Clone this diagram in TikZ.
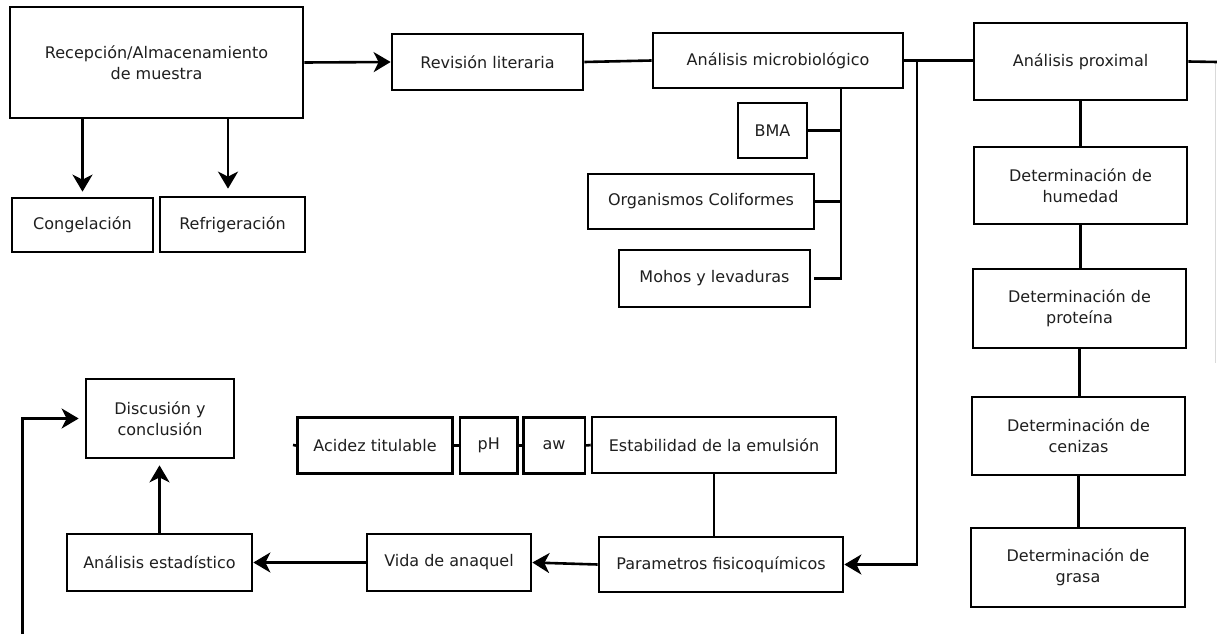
\documentclass[tikz,border=0pt]{standalone}
\usepackage{fontspec}
\setmainfont{DejaVu Sans}
\usetikzlibrary{arrows.meta,calc}
\begin{document}
\begin{tikzpicture}[x=1pt,y=-1pt,
  box/.style={draw=black,line width=2.7pt,fill=white,inner sep=2pt,align=center,
    font=\fontsize{16}{21}\selectfont,text=black!88},
  conn/.style={line width=2.6pt,draw=black},
  arr/.style={conn,-{Stealth[length=17pt,width=20pt,inset=5pt]}},
  faint/.style={line width=1.6pt,draw=black!15}]
\useasboundingbox (0,0) rectangle (1217,634);
% nodes
\node[box,minimum width=293pt,minimum height=111pt] (rec) at (156.5,62.5) {Recepción/Almacenamiento\\de muestra};
\node[box,minimum width=141pt,minimum height=54pt] (cong) at (82.5,225) {Congelación};
\node[box,minimum width=145pt,minimum height=55pt] (refr) at (232.5,224.5) {Refrigeración};
\node[box,minimum width=191pt,minimum height=56pt] (rev) at (487.5,62) {Revisión literaria};
\node[box,minimum width=250pt,minimum height=55pt] (micro) at (778,60.5) {Análisis microbiológico};
\node[box,minimum width=69pt,minimum height=55pt] (bma) at (772.5,130.5) {BMA};
\node[box,minimum width=226pt,minimum height=55pt] (coli) at (701,201.5) {Organismos Coliformes};
\node[box,minimum width=191pt,minimum height=57pt] (moh) at (714.5,278.5) {Mohos y levaduras};
\node[box,minimum width=213pt,minimum height=77pt] (prox) at (1080.5,61.5) {Análisis proximal};
\node[box,minimum width=213pt,minimum height=77pt] (hum) at (1080.5,185.5) {Determinación de\\humedad};
\node[box,minimum width=213pt,minimum height=79pt] (prot) at (1079.5,308.5) {Determinación de\\proteína};
\node[box,minimum width=213pt,minimum height=78pt] (cen) at (1078.5,436) {Determinación de\\cenizas};
\node[box,minimum width=214pt,minimum height=79pt] (gra) at (1078,567.5) {Determinación de\\grasa};
\node[box,minimum width=148pt,minimum height=79pt] (disc) at (160,418.5) {Discusión y\\conclusión};
\node[box,minimum width=185pt,minimum height=57pt] (est) at (159.5,562.5) {Análisis estadístico};
\node[box,minimum width=164pt,minimum height=57pt] (vida) at (449,562.5) {Vida de anaquel};
\node[box,minimum width=244pt,minimum height=55pt] (par) at (721,564.5) {Parametros fisicoquímicos};
\node[box,minimum width=155pt,minimum height=56pt] (acid) at (375,445.5) {Acidez titulable};
\node[box,minimum width=57.5pt,minimum height=56pt] (ph) at (488.75,445.5) {pH};
\node[box,minimum width=61.7pt,minimum height=56pt] (aw) at (554,445.5) {aw};
\node[box,minimum width=244pt,minimum height=56pt] (estab) at (714,445) {Estabilidad de la emulsión};
% helper coordinates
\coordinate (r2) at (228,0);
\coordinate (mb) at (841,0);
\coordinate (j1) at (917,61);
\coordinate (rt) at (1217,62);
\coordinate (ft) at (1215.5,62);
\coordinate (fb) at (1215.5,363);
\coordinate (ls) at (293,445);
\coordinate (lb) at (22.5,634);
% connectors
\draw[arr] (rec.east) -- (rev.west);
\draw[arr,shorten >=5pt] (rec.south -| cong.north) -- (cong.north);
\draw[arr,shorten >=7pt] (rec.south -| r2) -- (refr.north -| r2);
\draw[conn] (rev.east) -- (micro.west);
\draw[conn] (micro.east) -- (micro.east -| prox.west);
\draw[arr] (j1) |- (par.east);
\draw[faint] (ft) -- (fb);
\draw[conn] (prox.east) -- (rt);
\draw[conn] (prox.south) -- (prox.south |- hum.north);
\draw[conn] (hum.south) -- (hum.south |- prot.north);
\draw[conn] (prot.south) -- (prot.south |- cen.north);
\draw[conn] (cen.south) -- (cen.south |- gra.north);
\draw[conn] (micro.south -| mb) -- ($(mb |- moh.east)+(0,1.5)$);
\draw[conn] (bma.east) -- (bma.east -| mb);
\draw[conn] (coli.east) -- (coli.east -| mb);
\draw[conn,shorten <=3pt] (moh.east) -- (moh.east -| mb);
\draw[conn] (ls) -- (acid.west);
\draw[conn] (acid.east) -- (ph.west);
\draw[conn] (ph.east) -- (aw.west);
\draw[conn] (aw.east) -- (estab.west);
\draw[conn] (estab.south) -- (estab.south |- par.north);
\draw[arr] (par.west) -- (vida.east);
\draw[arr] (vida.west) -- (est.east);
\draw[arr,shorten >=6pt] (est.north) -- (est.north |- disc.south);
\draw[arr,shorten >=6pt] (lb) |- (disc.west);
\end{tikzpicture}
\end{document}
